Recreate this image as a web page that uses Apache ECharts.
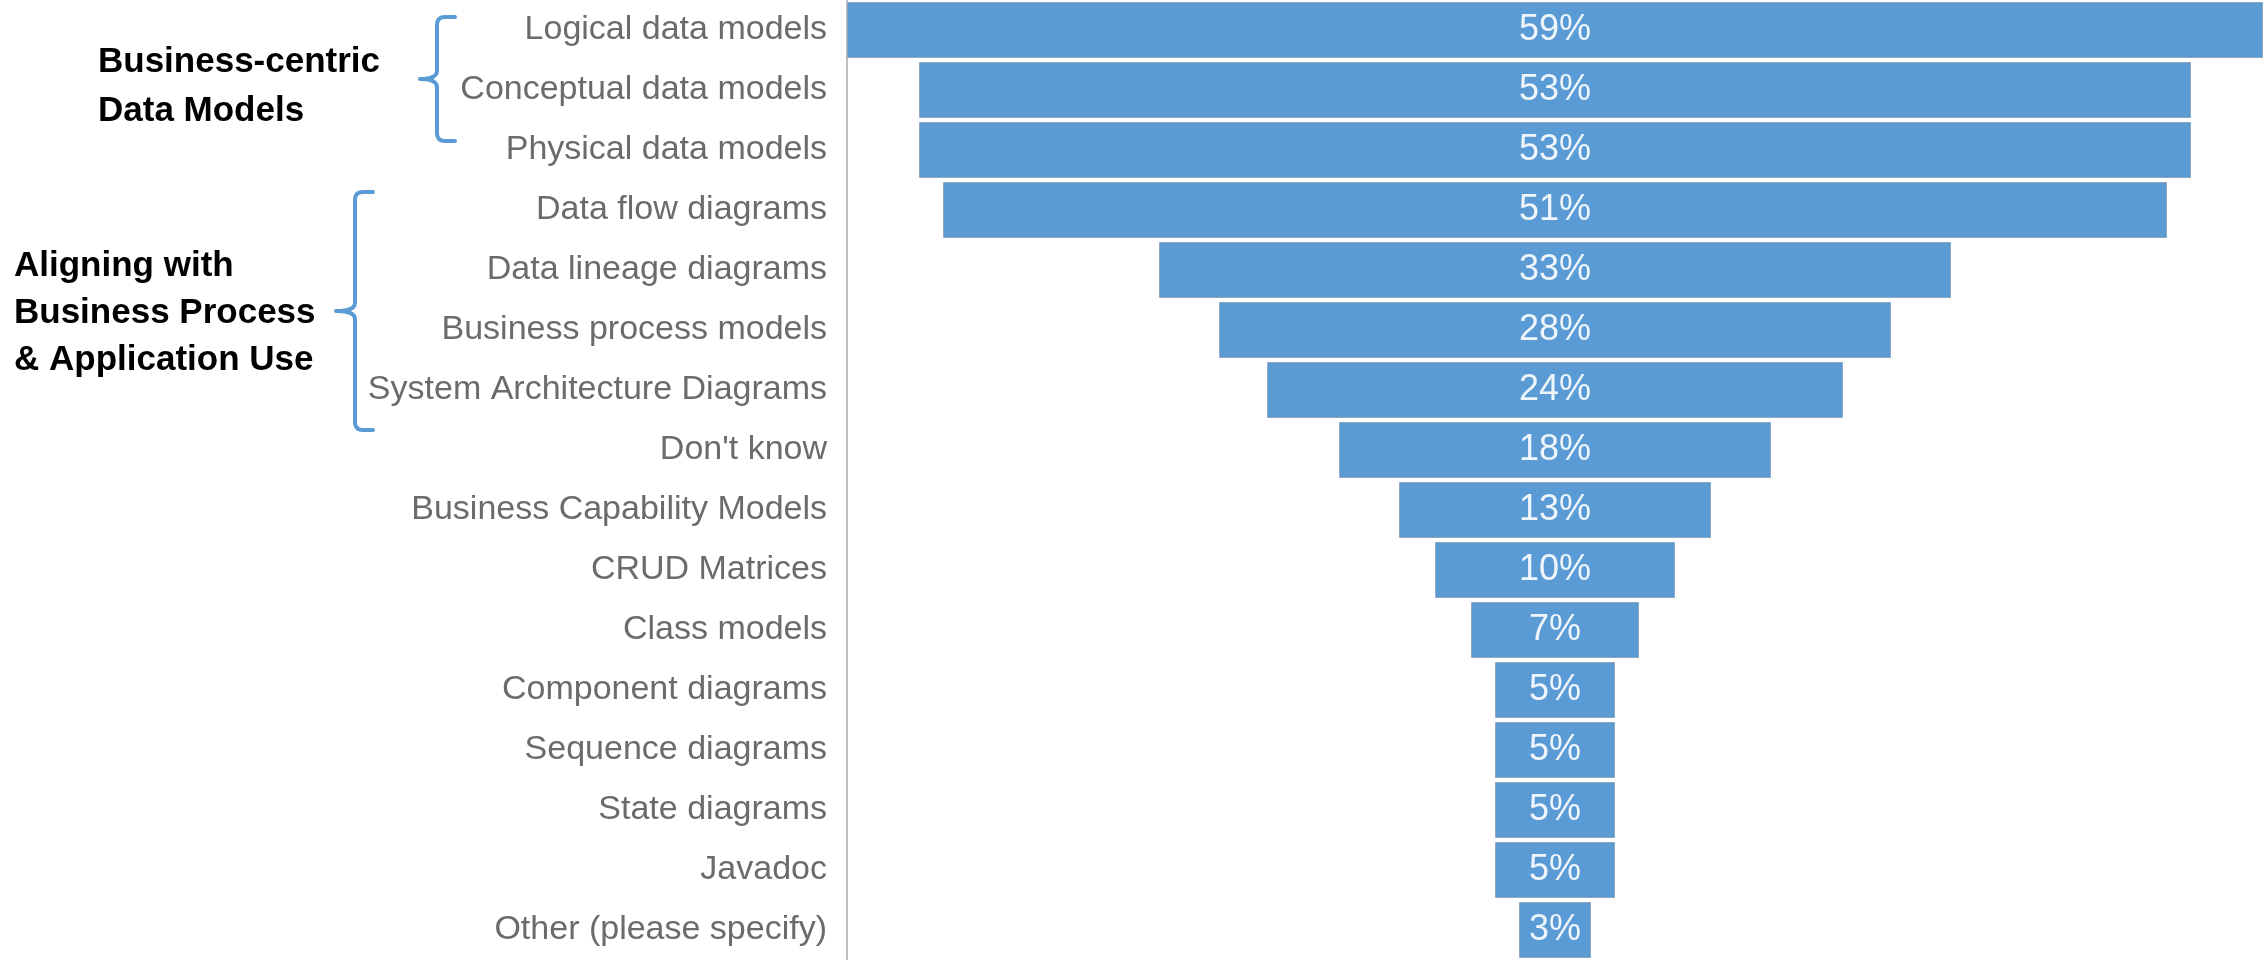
<!DOCTYPE html>
<html>
<head>
<meta charset="utf-8">
<title>Data model usage</title>
<script src="https://cdn.jsdelivr.net/npm/echarts@6/dist/echarts.min.js"></script>
<style>
  html, body { margin: 0; padding: 0; background: #ffffff; }
  #chart { width: 2263px; height: 960px; }
</style>
</head>
<body>
<div id="chart"></div>
<script>
// Model / diagram types, top to bottom
const categories = [
  'Logical data models',
  'Conceptual data models',
  'Physical data models',
  'Data flow diagrams',
  'Data lineage diagrams',
  'Business process models',
  'System Architecture Diagrams',
  "Don't know",
  'Business Capability Models',
  'CRUD Matrices',
  'Class models',
  'Component diagrams',
  'Sequence diagrams',
  'State diagrams',
  'Javadoc',
  'Other (please specify)'
];

// Share of respondents (%)
const shares = [59, 53, 53, 51, 33, 28, 24, 18, 13, 10, 7, 5, 5, 5, 5, 3];

// Group annotations drawn beside the category labels
const groupBusinessCentric = ['Business-centric', 'Data Models'];
const groupAligning = ['Aligning with', 'Business Process', '& Application Use'];

const maxShare = Math.max(...shares);
// Invisible lead-in so each bar sits centred on the axis midpoint
const offsets = shares.map(v => (maxShare - v) / 2);

const BLUE = '#5b9bd5';

// Sample a quadratic curve into points
function quad(p0, c, p1, n) {
  const pts = [];
  for (let i = 1; i <= n; i++) {
    const t = i / n, u = 1 - t;
    pts.push([
      u * u * p0[0] + 2 * u * t * c[0] + t * t * p1[0],
      u * u * p0[1] + 2 * u * t * c[1] + t * t * p1[1]
    ]);
  }
  return pts;
}

// Curly-brace outline: straight spine, short serifs, pointed middle
function bracketPoints(x, top, bottom, tipX) {
  const mid = (top + bottom) / 2;
  const r = 8;
  const serif = 18;
  let pts = [[x + serif, top], [x + r, top]];
  pts = pts.concat(quad([x + r, top], [x, top], [x, top + r], 6));
  pts.push([x, mid - r]);
  pts = pts.concat(quad([x, mid - r], [x, mid], [tipX, mid], 6));
  pts = pts.concat(quad([tipX, mid], [x, mid], [x, mid + r], 6));
  pts.push([x, bottom - r]);
  pts = pts.concat(quad([x, bottom - r], [x, bottom], [x + r, bottom], 6));
  pts.push([x + serif, bottom]);
  return pts;
}

function textLines(lines, x, y0, step) {
  return lines.map((t, i) => ({
    type: 'text',
    x: x,
    y: y0 + i * step,
    style: {
      text: t,
      fill: '#000000',
      font: 'bold 35px "Liberation Sans", Arial, sans-serif',
      textAlign: 'left',
      textVerticalAlign: 'middle'
    }
  }));
}

const chart = echarts.init(document.getElementById('chart'), null, { renderer: 'canvas' });

chart.setOption({
  backgroundColor: '#ffffff',
  animation: false,
  grid: { left: 847, right: 0, top: -3.5, bottom: -4.5, containLabel: false },
  xAxis: {
    type: 'value',
    min: 0,
    max: maxShare,
    show: false
  },
  yAxis: {
    type: 'category',
    data: categories,
    inverse: true,
    axisLine: { show: true, lineStyle: { color: '#bfbfbf', width: 2 } },
    axisTick: { show: false },
    splitLine: { show: false },
    axisLabel: {
      color: '#6b6b6b',
      fontSize: 34,
      fontFamily: '"Liberation Sans", Arial, sans-serif',
      margin: 20
    }
  },
  series: [
    {
      type: 'bar',
      stack: 'funnel',
      data: offsets,
      barWidth: 56,
      itemStyle: { color: 'transparent' },
      emphasis: { disabled: true },
      silent: true
    },
    {
      type: 'bar',
      stack: 'funnel',
      data: shares,
      barWidth: 56,
      itemStyle: { color: BLUE, borderColor: '#8ea6bf', borderWidth: 1 },
      label: {
        show: true,
        position: 'inside',
        formatter: '{c}%',
        color: '#eef5fb',
        fontSize: 36,
        fontFamily: '"Liberation Sans", Arial, sans-serif'
      }
    }
  ],
  graphic: [
    {
      type: 'polyline',
      shape: { points: bracketPoints(437, 17, 141, 420) },
      style: { fill: null, stroke: BLUE, lineWidth: 4, lineJoin: 'round', lineCap: 'round' }
    },
    {
      type: 'polyline',
      shape: { points: bracketPoints(355, 192, 430, 336) },
      style: { fill: null, stroke: BLUE, lineWidth: 4, lineJoin: 'round', lineCap: 'round' }
    }
  ]
    .concat(textLines(groupBusinessCentric, 98, 62, 49))
    .concat(textLines(groupAligning, 14, 266, 47))
});
</script>
</body>
</html>
